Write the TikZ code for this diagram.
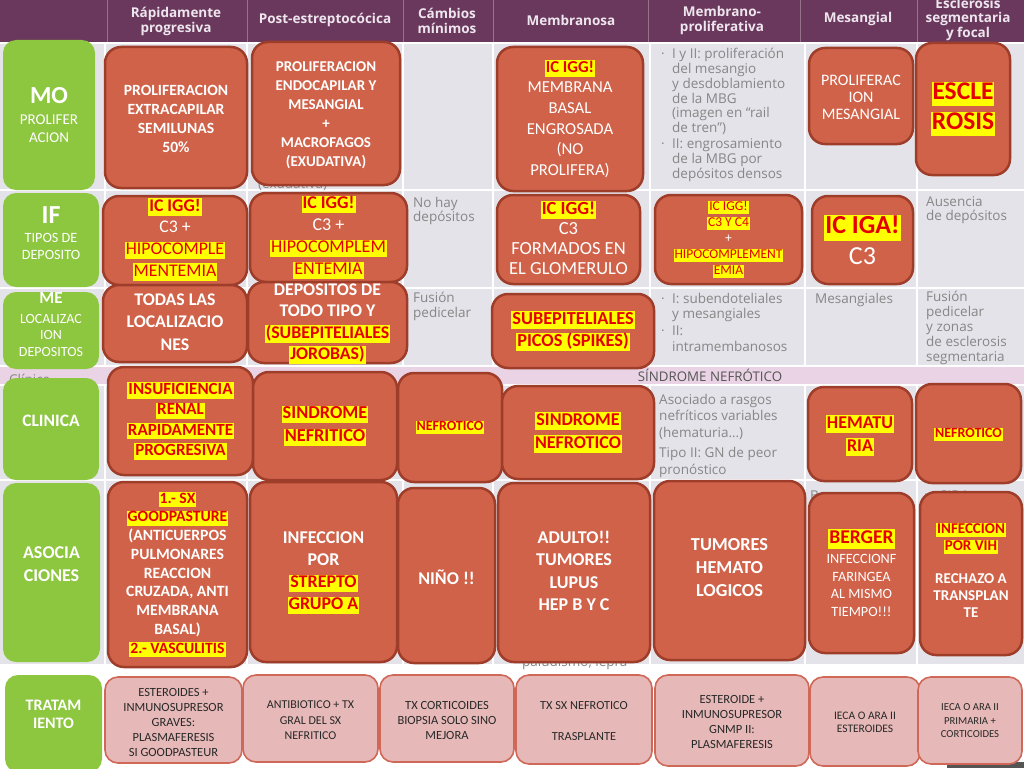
\documentclass[tikz,border=0pt]{standalone}
\usepackage{fontspec}
\setmainfont{Carlito}
\newfontfamily\osf{Open Sans}
\definecolor{hdr}{RGB}{106,56,92}
\definecolor{hdrline}{RGB}{150,115,140}
\definecolor{hdrtxt}{RGB}{238,230,238}
\definecolor{bodybg}{RGB}{227,227,233}
\definecolor{band}{RGB}{233,211,228}
\definecolor{ofill}{RGB}{208,98,73}
\definecolor{obord}{RGB}{158,62,42}
\definecolor{gfill}{RGB}{141,198,63}
\definecolor{pfill}{RGB}{230,185,184}
\definecolor{pbord}{RGB}{208,104,88}
\definecolor{ptxt}{RGB}{40,40,40}
\definecolor{hly}{RGB}{255,255,0}
\definecolor{hlr}{RGB}{228,0,0}
\definecolor{bggray}{RGB}{135,135,135}
\definecolor{bgdark}{RGB}{85,85,85}
\newcommand\F[2]{\fontsize{#1}{#2}\selectfont}
\newcommand\hl[1]{{\setlength{\fboxsep}{0pt}\colorbox{hly}{\kern1pt\rule[-0.26em]{0pt}{0.98em}\textcolor{hlr}{#1}\kern1pt}}}
\newcounter{bgc}
\newcommand\bt[3]{\stepcounter{bgc}\node[bgt, anchor=base west] (bg\the\value{bgc}) at (#1,{(#2)+4.5}) {#3};}
\newcommand\bx[9][0]{%
  \node[#3, minimum width={(#6)-(#4)}, minimum height={(#7)-(#5)}] (#2) at ({((#4)+(#6))/2},{((#5)+(#7))/2}) {};
  \node[tx, #8] (#2t) at ([yshift={-(#1)}]#2.center) {#9};}
\tikzset{
  obox/.style={draw=obord, fill=ofill, line width=2.5pt, rounded corners=16pt, inner sep=0pt, outer sep=0pt},
  gbox/.style={fill=gfill, rounded corners=13pt, inner sep=0pt, outer sep=0pt},
  pbox/.style={draw=pbord, fill=pfill, line width=1.6pt, rounded corners=13pt, inner sep=0pt, outer sep=0pt},
  tx/.style={inner sep=0pt, align=center, text=white},
  bgt/.style={font=\osf\F{13.5}{15}, text=bggray, inner sep=0pt},
  hdt/.style={font=\osf\bfseries\F{13.5}{15}, text=hdrtxt, inner sep=0pt, align=center},
  wline/.style={white, line width=2pt}
}
\begin{document}
\begin{tikzpicture}[x=1pt, y=-1pt]
\lineskiplimit=-100pt \lineskip=0pt
\useasboundingbox (0,0) rectangle (1024,768);
% background table
\fill[white] (0,0) rectangle (1024,768);
\fill[bodybg] (0,43) rectangle (1024,665);
\fill[band] (0,366) rectangle (1024,385);
\fill[hdr] (0,0) rectangle (1024,43);
\foreach \c in {107,247,403,493,648,800,917} \draw[hdrline, line width=1pt] (\c,0) -- (\c,43);
\foreach \c in {105,247,403,493,650,805,917} {\draw[wline] (\c,43) -- (\c,366); \draw[wline] (\c,385) -- (\c,665);}
\foreach \r in {43,190,288,366,385,480,665} \draw[wline] (0,\r) -- (1024,\r);
\fill[bgdark] (947,762) rectangle (1024,768);
% header texts
\node[hdt] (h1) at (176,21) {Rápidamente\\progresiva};
\node[hdt] (h2) at (325,20) {Post-estreptocócica};
\node[hdt] (h3) at (447,21) {Cámbios\\mínimos};
\node[hdt] (h4) at (571,20) {Membranosa};
\node[hdt] (h5) at (722,20) {Membrano-\\proliferativa};
\node[hdt] (h6) at (858,19) {Mesangial};
\node[hdt, font=\osf\bfseries\F{13.5}{14.5}] (h7) at (968,19) {Esclerosis\\segmentaria\\y focal};
% background texts of the table
\bt{258}{184}{(exudativa)}
\bt{661}{54}{·}\bt{672}{54}{I y II: proliferación}
\bt{672}{69}{del mesangio}
\bt{672}{84}{y desdoblamiento}
\bt{672}{99}{de la MBG}
\bt{672}{113}{(imagen en “rail}
\bt{672}{128}{de tren”)}
\bt{661}{144}{·}\bt{672}{144}{II: engrosamiento}
\bt{672}{159}{de la MBG por}
\bt{672}{174}{depósitos densos}
\bt{413}{203}{No hay}
\bt{413}{217}{depósitos}
\bt{926}{202}{Ausencia}
\bt{926}{216}{de depósitos}
\bt{413}{298}{Fusión}
\bt{413}{313}{pedicelar}
\bt{661}{299}{·}\bt{672}{299}{I: subendoteliales}
\bt{672}{314}{y mesangiales}
\bt{661}{331}{·}\bt{672}{331}{II:}
\bt{672}{347}{intramembanosos}
\bt{815}{299}{Mesangiales}
\bt{926}{297}{Fusión}
\bt{926}{312}{pedicelar}
\bt{926}{327}{y zonas}
\bt{926}{342}{de esclerosis}
\bt{926}{357}{segmentaria}
\node[bgt, text=bgdark, font=\osf\F{13.3}{15}] (band) at (710,375) {SÍNDROME NEFRÓTICO};
\bt{9}{380}{Clínica}
\bt{659}{400}{Asociado a rasgos}
\bt{659}{416}{nefríticos variables}
\bt{659}{433}{(hematuria…)}
\bt{659}{453}{Tipo II: GN de peor}
\bt{659}{470}{pronóstico}
\bt{810}{496}{Berger}
\bt{924}{495}{·}\bt{940}{496}{SIDA}
\bt{522}{662}{paludismo, lepra}
% row labels
\bx{g1}{gbox}{3}{40}{95}{190}{font=\F{15}{18}}{{\F{24.5}{18}\bfseries MO}\\[3pt]PROLIFER\\ACION}
\bx[-7]{g2}{gbox}{3}{193}{99}{287}{font=\F{14.2}{17}}{{\F{26}{17}\bfseries IF}\\[2pt]TIPOS DE\\DEPOSITO}
\bx[-6]{g3}{gbox}{3}{292}{99}{369}{font=\F{14}{16.5}}{{\F{17}{16.5}\bfseries ME}\\[3pt]LOCALIZAC\\ION\\DEPOSITOS}
\bx[-8]{g4}{gbox}{3}{378}{99}{480}{font=\F{17.5}{21}\bfseries}{CLINICA}
\bx[-8]{g5}{gbox}{3}{483}{100}{662}{font=\F{18}{23}\bfseries}{ASOCIA\\CIONES}
\bx[-9.5]{g6}{gbox}{5}{675}{102}{772}{font=\F{16}{18}\bfseries}{TRATAM\\IENTO}
% MO row
\bx[1]{b11}{obox}{105}{47}{247}{188}{font=\F{15.6}{19}\bfseries}{PROLIFERACION\\EXTRACAPILAR\\SEMILUNAS\\50\%}
\bx[2]{b12}{obox}{252}{42}{400}{185}{font=\F{15}{19}\bfseries}{PROLIFERACION\\ENDOCAPILAR Y\\MESANGIAL\\+\\MACROFAGOS\\(EXUDATIVA)}
\bx{b14}{obox}{497}{47}{643}{191}{font=\F{16.7}{20.6}}{\textbf{\hl{IC IGG!}}\\MEMBRANA\\BASAL\\ENGROSADA\\(NO\\PROLIFERA)}
\bx[1]{b16}{obox}{809}{48}{913}{144}{font=\F{16}{17}}{PROLIFERAC\\ION\\MESANGIAL}
\bx{b17}{obox}{916}{43}{1010}{175}{font=\F{25.5}{30}\bfseries}{\hl{ESCLE}\\\hl{ROSIS}}
% IF row
\bx[-1]{b21}{obox}{103}{196}{247}{285}{font=\F{17.8}{21.7}}{\textbf{\hl{IC IGG!}}\\C3 +\\\hl{HIPOCOMPLE}\\\hl{MENTEMIA}}
\bx{b22}{obox}{250}{193}{407}{282}{font=\F{18}{22}}{\textbf{\hl{IC IGG!}}\\C3 +\\\hl{HIPOCOMPLEM}\\\hl{ENTEMIA}}
\bx[-2]{b24}{obox}{497}{195}{640}{284}{font=\F{18.5}{20}}{\textbf{\hl{IC IGG!}}\\C3\\FORMADOS EN\\EL GLOMERULO}
\bx{b25}{obox}{655}{195}{802}{284}{font=\F{13.5}{16}}{\hl{IC IGG!}\\\hl{C3 Y C4}\\+\\\hl{HIPOCOMPLEMENT}\\\hl{EMIA}}
\bx{b26}{obox}{812}{196}{913}{284}{font=\F{26}{31}}{\textbf{\hl{IC IGA!}}\\C3}
% ME row
\bx[-1.5]{b31}{obox}{103}{285}{247}{362}{font=\F{17.8}{22.5}\bfseries}{TODAS LAS\\LOCALIZACIO\\NES}
\bx[1.5]{b32}{obox}{248}{282}{407}{363}{font=\F{17.8}{21.3}\bfseries}{DEPOSITOS DE\\TODO TIPO Y\\\hl{(SUBEPITELIALES}\\\hl{JOROBAS)}}
\bx{b34}{obox}{492}{294}{654}{368}{font=\F{18.3}{22}\bfseries}{\hl{SUBEPITELIALES}\\\hl{PICOS (SPIKES)}}
% CLINICA row
\bx{b41}{obox}{108}{367}{253}{475}{font=\F{17}{20.3}\bfseries}{\hl{INSUFICIENCIA}\\\hl{RENAL}\\\hl{RAPIDAMENTE}\\\hl{PROGRESIVA}}
\bx{b42}{obox}{253}{372}{397}{480}{font=\F{18.3}{23}\bfseries}{\hl{SINDROME}\\\hl{NEFRITICO}}
\bx{b43}{obox}{398}{373}{502}{482}{font=\F{14}{17}\bfseries}{\hl{NEFROTICO}}
\bx{b44}{obox}{502}{386}{654}{479}{font=\F{18}{23}\bfseries}{\hl{SINDROME}\\\hl{NEFROTICO}}
\bx[1.5]{b46}{obox}{808}{387}{912}{481}{font=\F{18}{23}\bfseries}{\hl{HEMATU}\\\hl{RIA}}
\bx[1]{b47}{obox}{916}{384}{1021}{483}{font=\F{14}{17}\bfseries}{\hl{NEFROTICO}}
% ASOCIACIONES row
\bx{b51}{obox}{108}{482}{247}{667}{font=\F{15.7}{18.75}\bfseries}{\hl{1.- SX}\\\hl{GOODPASTURE}\\(ANTICUERPOS\\PULMONARES\\REACCION\\CRUZADA, ANTI\\MEMBRANA\\BASAL)\\\hl{2.- VASCULITIS}}
\bx[1]{b52}{obox}{250}{482}{397}{662}{font=\F{18}{22}\bfseries}{INFECCION\\POR\\\hl{STREPTO}\\\hl{GRUPO A}}
\bx[1.5]{b53}{obox}{398}{488}{495}{663}{font=\F{18}{22}\bfseries}{NIÑO !!}
\bx[-1.5]{b54}{obox}{498}{483}{650}{662}{font=\F{18}{22.6}\bfseries}{ADULTO!!\\TUMORES\\LUPUS\\HEP B Y C}
\bx[-2.5]{b55}{obox}{654}{481}{805}{660}{font=\F{18.3}{23}\bfseries}{TUMORES\\HEMATO\\LOGICOS}
\bx{b56}{obox}{809}{493}{914}{653}{font=\F{14.2}{17.5}}{{\F{19.5}{17.5}\bfseries\hl{BERGER}}\\[3pt]INFECCIONF\\FARINGEA\\AL MISMO\\TIEMPO!!!}
\bx[-3.5]{b57}{obox}{920}{492}{1022}{655}{font=\F{15}{17}\bfseries}{\hl{INFECCION}\\\hl{POR VIH}\\[16pt]RECHAZO A\\TRANSPLAN\\TE}
% TRATAMIENTO row
\bx[2]{t1}{pbox}{105}{677}{242}{763}{font=\F{12.5}{15}, text=ptxt}{ESTEROIDES +\\INMUNOSUPRESOR\\GRAVES:\\PLASMAFERESIS\\SI GOODPASTEUR}
\bx[2]{t2}{pbox}{243}{675}{378}{762}{font=\F{12}{15.5}, text=ptxt}{ANTIBIOTICO + TX\\GRAL DEL SX\\NEFRITICO}
\bx[1.5]{t3}{pbox}{380}{675}{514}{762}{font=\F{12.5}{15}, text=ptxt}{TX CORTICOIDES\\BIOPSIA SOLO SINO\\MEJORA}
\bx[2]{t4}{pbox}{516}{675}{652}{764}{font=\F{12.3}{15.5}, text=ptxt}{TX SX NEFROTICO\\[15.5pt]TRASPLANTE}
\bx[1.5]{t5}{pbox}{655}{675}{809}{766}{font=\F{12.5}{15.3}, text=ptxt}{ESTEROIDE +\\INMUNOSUPRESOR\\GNMP II:\\PLASMAFERESIS}
\bx[1]{t6}{pbox}{810}{677}{920}{766}{font=\F{11.5}{13.5}, text=ptxt}{IECA O ARA II\\ESTEROIDES}
\bx[0.5]{t7}{pbox}{918}{677}{1022}{764}{font=\F{10.7}{13.5}, text=ptxt}{IECA O ARA II\\PRIMARIA +\\CORTICOIDES}
\end{tikzpicture}
\end{document}
